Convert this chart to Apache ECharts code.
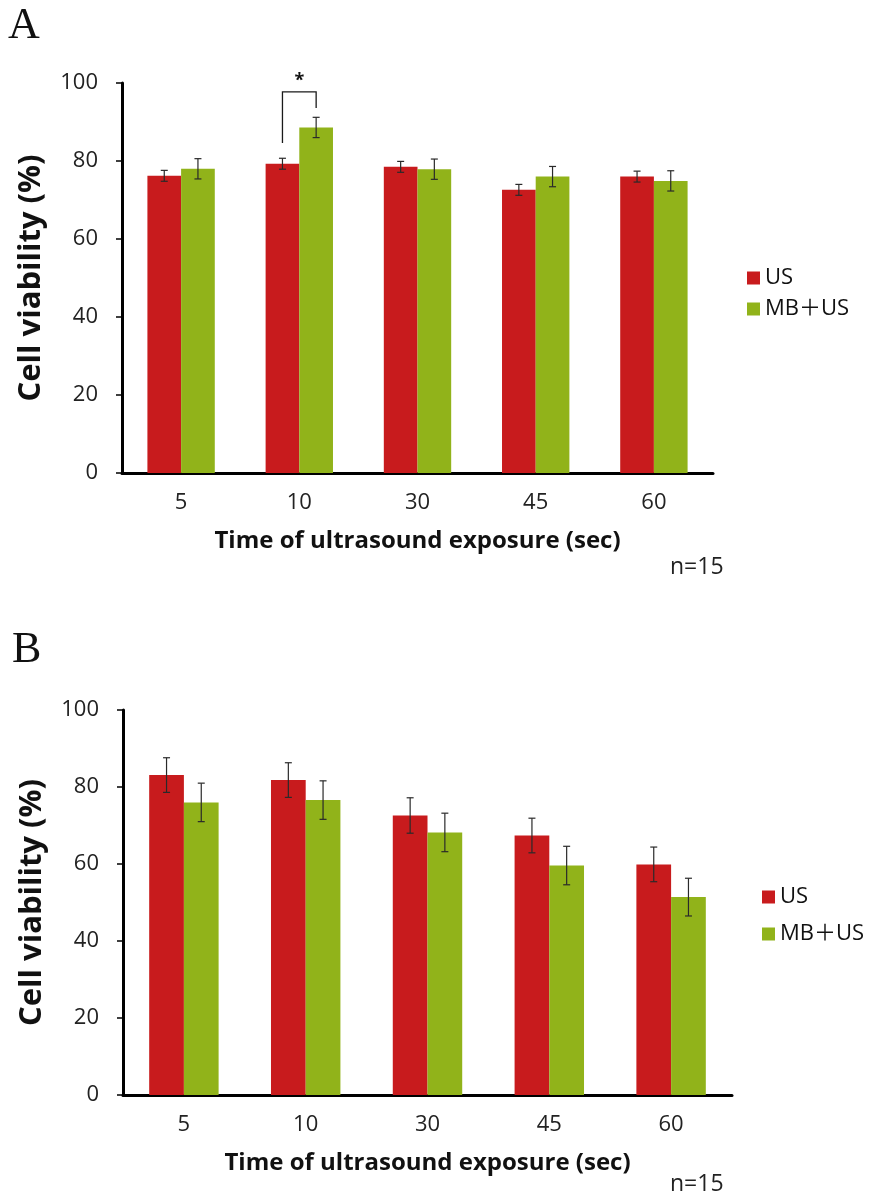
<!DOCTYPE html>
<html>
<head>
<meta charset="utf-8">
<script src="https://cdn.jsdelivr.net/npm/echarts@6/dist/echarts.min.js"></script>
<style>
  html, body { margin: 0; padding: 0; background: #ffffff; }
  #chart { width: 877px; height: 1199px; }
</style>
</head>
<body>
<div id="chart"></div>
<script>
// Exposure times (seconds) shared by both panels
const categories = ['5', '10', '30', '45', '60'];

// Panel A: cell viability (%) and error (±)
const usA = [76.2, 79.3, 78.5, 72.6, 76.0];
const usAErr = [1.4, 1.4, 1.4, 1.4, 1.4];
const mbA = [78.0, 88.6, 77.9, 76.0, 74.9];
const mbAErr = [2.6, 2.6, 2.6, 2.6, 2.6];

// Panel B: cell viability (%) and error (±)
const usB = [83.1, 81.8, 72.6, 67.4, 59.9];
const usBErr = [4.5, 4.5, 4.6, 4.5, 4.5];
const mbB = [76.0, 76.6, 68.2, 59.6, 51.4];
const mbBErr = [5.0, 5.0, 5.0, 5.0, 4.9];

// Significance bracket in panel A (category index, leg ends, bracket top)
const sigCategory = [1];
const sigLegEnds = [84.6, 93.6];
const sigTop = [97.7];

// Value axis ticks
const yMin = 0, yMax = 100, yStep = 20;

const seriesNames = ['US', 'MB\uFF0BUS'];
const RED = '#c81b1d';
const GREEN = '#91b31a';
const FONT = '"Open Sans", "Noto Sans CJK JP", sans-serif';
const GAP = 0.43;

function errorSeries(values, errs, side, axisIdx) {
  return {
    type: 'custom',
    xAxisIndex: axisIdx,
    yAxisIndex: axisIdx,
    z: 5,
    silent: true,
    encode: { x: 0, y: [1, 2] },
    data: values.map((v, i) => [i, v - errs[i], v + errs[i]]),
    renderItem: function (params, api) {
      const i = api.value(0);
      const lo = api.coord([i, api.value(1)]);
      const hi = api.coord([i, api.value(2)]);
      const band = api.size([1, 0])[0];
      const barW = band * (1 - GAP) / 2;
      const cx = lo[0] + side * barW / 2;
      const cap = 3.5;
      const style = { stroke: '#2a2a2a', lineWidth: 1.2 };
      return {
        type: 'group',
        children: [
          { type: 'line', shape: { x1: cx, y1: lo[1], x2: cx, y2: hi[1] }, style },
          { type: 'line', shape: { x1: cx - cap, y1: lo[1], x2: cx + cap, y2: lo[1] }, style },
          { type: 'line', shape: { x1: cx - cap, y1: hi[1], x2: cx + cap, y2: hi[1] }, style }
        ]
      };
    }
  };
}

function barSeries(name, values, color, axisIdx) {
  return {
    type: 'bar',
    name: name,
    xAxisIndex: axisIdx,
    yAxisIndex: axisIdx,
    data: values,
    barGap: '0%',
    barCategoryGap: (GAP * 100) + '%',
    itemStyle: { color: color },
    silent: true
  };
}

const bracketSeries = {
  type: 'custom',
  xAxisIndex: 0,
  yAxisIndex: 0,
  z: 6,
  silent: true,
  clip: false,
  encode: { x: 0, y: [1, 2, 3] },
  data: sigCategory.map((c, k) => [c, sigLegEnds[0], sigLegEnds[1], sigTop[k]]),
  renderItem: function (params, api) {
    const i = api.value(0);
    const pl = api.coord([i, api.value(1)]);
    const pr = api.coord([i, api.value(2)]);
    const pt = api.coord([i, api.value(3)]);
    const band = api.size([1, 0])[0];
    const barW = band * (1 - GAP) / 2;
    const xl = pl[0] - barW / 2;
    const xr = pl[0] + barW / 2;
    return {
      type: 'group',
      children: [
        {
          type: 'polyline',
          shape: { points: [[xl, pl[1]], [xl, pt[1]], [xr, pt[1]], [xr, pr[1]]] },
          style: { stroke: '#1a1a1a', lineWidth: 1.3, fill: null }
        },
        {
          type: 'text',
          style: {
            x: pl[0], y: pt[1] - 2, text: '*',
            fill: '#111', font: 'bold 18px ' + FONT,
            align: 'center', verticalAlign: 'bottom'
          }
        }
      ]
    };
  }
};

function xAxisDef(gridIdx) {
  return {
    type: 'category',
    gridIndex: gridIdx,
    data: categories,
    name: 'Time of ultrasound exposure (sec)',
    nameLocation: 'middle',
    nameGap: 56,
    nameTextStyle: { fontFamily: FONT, fontSize: 24, fontWeight: 'bold', color: '#111' },
    axisLine: { lineStyle: { color: '#000', width: 3 } },
    axisTick: { alignWithLabel: true, length: 5, lineStyle: { color: '#000', width: 3 } },
    axisLabel: { fontFamily: FONT, fontSize: 22, color: '#222', margin: 19 },
    splitLine: { show: false }
  };
}

function yAxisDef(gridIdx) {
  return {
    type: 'value',
    gridIndex: gridIdx,
    min: yMin, max: yMax, interval: yStep,
    name: 'Cell viability (%)',
    nameLocation: 'middle',
    nameGap: 75,
    nameTextStyle: { fontFamily: FONT, fontSize: 31, fontWeight: 'bold', color: '#111' },
    axisLine: { show: true, lineStyle: { color: '#000', width: 3 } },
    axisTick: { show: true, length: 6, lineStyle: { color: '#000', width: 1.5 } },
    axisLabel: { fontFamily: FONT, fontSize: 22, color: '#222', margin: 24 },
    splitLine: { show: false }
  };
}

function legendDef(left, top, gap) {
  return {
    data: seriesNames,
    orient: 'vertical',
    left: left,
    top: top,
    itemWidth: 13,
    itemHeight: 13,
    itemGap: gap,
    icon: 'rect',
    selectedMode: false,
    textStyle: { fontFamily: FONT, fontSize: 22, color: '#111' }
  };
}

const chart = echarts.init(document.getElementById('chart'), null, { renderer: 'canvas' });

chart.setOption({
  backgroundColor: '#ffffff',
  animation: false,
  grid: [
    { left: 122, top: 83, width: 591, height: 390, containLabel: false },
    { left: 123, top: 710, width: 609, height: 385, containLabel: false }
  ],
  xAxis: [xAxisDef(0), xAxisDef(1)],
  yAxis: [yAxisDef(0), yAxisDef(1)],
  legend: [legendDef(742, 262, 9), legendDef(757, 881, 15)],
  graphic: [
    { type: 'text', left: 8, top: 4, style: { text: 'A', font: '44px "Liberation Serif", "DejaVu Serif", serif', fill: '#111' } },
    { type: 'text', left: 12, top: 628, style: { text: 'B', font: '44px "Liberation Serif", "DejaVu Serif", serif', fill: '#111' } },
    { type: 'text', left: 670, top: 556, style: { text: 'n=15', font: '23px ' + FONT, fill: '#222' } },
    { type: 'text', left: 670, top: 1173, style: { text: 'n=15', font: '23px ' + FONT, fill: '#222' } }
  ],
  series: [
    barSeries(seriesNames[0], usA, RED, 0),
    barSeries(seriesNames[1], mbA, GREEN, 0),
    errorSeries(usA, usAErr, -1, 0),
    errorSeries(mbA, mbAErr, 1, 0),
    bracketSeries,
    barSeries(seriesNames[0], usB, RED, 1),
    barSeries(seriesNames[1], mbB, GREEN, 1),
    errorSeries(usB, usBErr, -1, 1),
    errorSeries(mbB, mbBErr, 1, 1)
  ]
});
</script>
</body>
</html>
